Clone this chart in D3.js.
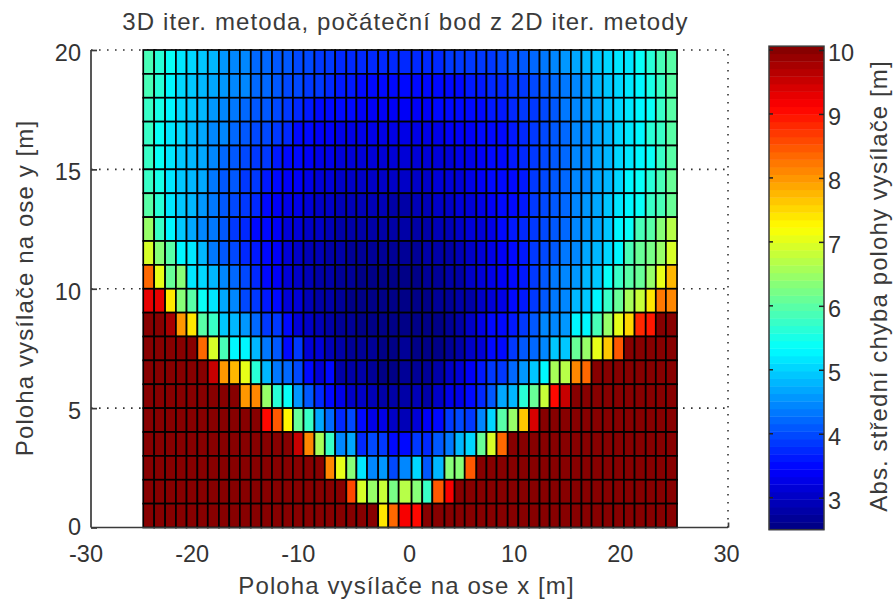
<!DOCTYPE html>
<html><head><meta charset="utf-8">
<script src="https://cdn.jsdelivr.net/npm/d3@7"></script>
<style>html,body{margin:0;padding:0;background:#fff;overflow:hidden}text{font-family:"Liberation Sans",Arial,sans-serif;fill:#333}</style>
</head><body><svg id="c" width="895" height="600"></svg>
<script>
const titleText="3D iter. metoda, počáteční bod z 2D iter. metody";
const xLabelText="Poloha vysílače na ose x [m]";
const yLabelText="Poloha vysílače na ose y [m]";
const cLabelText="Abs. střední chyba polohy vysílače [m]";
const xTicks=[-30,-20,-10,0,10,20,30];
const yTicks=[0,5,10,15,20];
const cTicks=[3,4,5,6,7,8,9,10];
// cell edges along x (m) and y (m)
const xEdges=[-25.08,-24.05,-23.02,-22.0,-21.0,-19.98,-19.0,-17.95,-16.98,-15.98,-14.95,-13.95,-12.95,-11.95,-10.98,-9.98,-8.95,-7.98,-7.0,-5.95,-5.0,-4.0,-2.95,-2.0,-1.02,0.2,1.2,2.15,3.3,4.25,5.2,6.3,7.25,8.2,9.25,10.25,11.25,12.25,13.2,14.15,15.2,16.2,17.15,18.2,19.2,20.2,21.2,22.25,23.2,24.15,25.2];
const yEdges=[0,1,2,3,4,5,6,7,8,9,10,11,12,13,14,15,16,17,18,19,20];
// error values per row; rows from y=19..20 at the top to y=0..1 at the bottom, left to right
const r19=[5.85,5.65,5.45,5.2,5.0,4.9,4.8,4.55,4.5,4.4,4.25,4.2,4.1,4.05,3.95,3.95,3.85,3.8,3.75,3.75,3.7,3.7,3.7,3.7,3.7,3.7,3.7,3.75,3.8,3.8,3.85,3.85,3.9,4.0,4.1,4.15,4.25,4.35,4.45,4.55,4.65,4.8,4.9,5.0,5.15,5.2,5.4,5.65,5.85,6.0];
const r18=[5.85,5.6,5.33,5.05,4.95,4.85,4.65,4.55,4.45,4.4,4.25,4.2,4.1,4.0,3.95,3.9,3.8,3.7,3.65,3.6,3.55,3.55,3.5,3.5,3.5,3.5,3.5,3.5,3.55,3.55,3.6,3.65,3.7,3.75,3.8,3.9,4.0,4.1,4.25,4.35,4.5,4.6,4.75,4.95,5.05,5.15,5.3,5.55,5.8,6.0];
const r17=[5.8,5.5,5.33,5.05,4.9,4.75,4.6,4.5,4.35,4.25,4.15,4.05,3.95,3.9,3.75,3.65,3.55,3.5,3.45,3.45,3.4,3.4,3.4,3.4,3.4,3.4,3.4,3.45,3.45,3.5,3.5,3.55,3.6,3.65,3.7,3.8,3.9,4.0,4.15,4.3,4.45,4.55,4.7,4.9,5.05,5.15,5.3,5.45,5.7,5.95];
const r16=[5.75,5.45,5.2,5.0,4.85,4.7,4.5,4.4,4.2,4.1,4.0,3.95,3.85,3.7,3.55,3.45,3.4,3.35,3.3,3.3,3.3,3.25,3.25,3.25,3.25,3.25,3.3,3.3,3.35,3.4,3.4,3.45,3.5,3.55,3.65,3.75,3.85,3.95,4.1,4.25,4.4,4.5,4.65,4.85,5.0,5.15,5.33,5.6,5.75,5.95];
const r15=[5.75,5.45,5.15,4.95,4.8,4.65,4.4,4.2,4.1,4.0,3.9,3.8,3.65,3.5,3.45,3.35,3.3,3.25,3.2,3.2,3.15,3.15,3.15,3.15,3.15,3.15,3.15,3.2,3.2,3.25,3.3,3.4,3.45,3.5,3.6,3.75,3.85,3.95,4.1,4.25,4.4,4.5,4.65,4.85,5.0,5.1,5.33,5.4,5.75,5.95];
const r14=[5.8,5.5,5.15,4.95,4.8,4.65,4.35,4.15,4.05,3.9,3.8,3.65,3.5,3.4,3.35,3.25,3.2,3.15,3.05,3.05,3.05,3.0,3.0,3.0,3.0,3.0,3.05,3.1,3.15,3.2,3.3,3.4,3.45,3.5,3.55,3.65,3.8,3.95,4.1,4.2,4.4,4.5,4.65,4.85,5.05,5.25,5.45,5.6,5.85,6.05];
const r13=[5.95,5.6,5.2,4.95,4.75,4.6,4.3,4.1,3.95,3.85,3.7,3.55,3.4,3.3,3.25,3.1,3.05,3.0,2.95,2.95,2.9,2.9,2.9,2.85,2.85,2.9,2.95,3.0,3.05,3.1,3.2,3.3,3.4,3.45,3.55,3.6,3.8,3.95,4.1,4.25,4.4,4.55,4.7,4.9,5.1,5.3,5.45,5.7,5.9,6.05];
const r12=[6.4,5.7,5.33,4.95,4.7,4.5,4.3,4.05,3.85,3.7,3.55,3.45,3.4,3.2,3.15,3.05,3.0,2.95,2.85,2.85,2.85,2.8,2.8,2.75,2.8,2.85,2.85,2.9,2.95,3.0,3.1,3.2,3.3,3.45,3.6,3.7,3.9,4.0,4.15,4.25,4.45,4.55,4.7,4.9,5.25,5.45,5.85,5.95,6.35,6.75];
const r11=[6.95,6.35,6.0,5.25,5.1,4.75,4.35,4.1,3.95,3.75,3.6,3.5,3.35,3.15,3.05,2.95,2.9,2.8,2.75,2.7,2.7,2.7,2.65,2.65,2.7,2.7,2.75,2.8,2.85,2.95,3.05,3.15,3.25,3.4,3.5,3.65,3.8,4.0,4.1,4.3,4.45,4.65,4.85,5.05,5.33,5.85,6.05,6.2,6.5,6.95];
const r10=[8.3,7.0,6.05,6.3,5.15,5.05,4.85,4.45,4.25,3.95,3.7,3.55,3.4,3.1,3.0,2.9,2.8,2.75,2.7,2.65,2.6,2.6,2.6,2.6,2.6,2.6,2.65,2.7,2.75,2.85,3.0,3.1,3.25,3.4,3.5,3.65,3.85,4.1,4.3,4.4,4.55,4.75,4.9,5.4,5.7,6.0,6.15,6.45,7.1,7.7];
const r9=[9.35,9.35,7.4,6.3,5.95,5.4,5.2,4.65,4.4,3.95,3.8,3.6,3.45,3.2,3.1,2.95,2.85,2.75,2.65,2.6,2.6,2.55,2.55,2.55,2.6,2.6,2.6,2.65,2.7,2.8,2.85,3.0,3.1,3.3,3.45,3.65,3.85,4.15,4.3,4.5,4.75,4.95,5.33,5.7,6.1,6.6,6.85,7.4,8.25,8.15];
const r8=[10,10,9.8,8.0,7.35,5.95,5.7,4.95,4.85,4.6,4.25,3.85,3.8,3.45,3.2,3.0,2.95,2.85,2.7,2.65,2.6,2.55,2.6,2.6,2.6,2.55,2.6,2.6,2.7,2.8,3.0,3.25,3.45,3.5,3.6,3.8,4.1,4.4,4.45,4.55,5.25,5.33,5.85,6.5,7.05,7.55,8.8,8.9,10,10];
const r7=[10,10,10,10,10,8.4,6.9,5.85,5.33,5.33,4.85,4.3,4.15,3.45,3.8,3.15,3.1,2.9,2.75,2.7,2.65,2.65,2.6,2.6,2.65,2.55,2.55,2.6,2.7,2.85,3.0,3.2,3.45,3.45,3.9,4.05,4.25,4.45,4.9,4.9,6.15,6.45,7.1,7.65,8.5,10,10,10,10,10];
const r6=[10,10,10,10,10,10,9.55,8.0,7.7,7.1,5.6,4.75,4.35,4.25,4.0,3.45,3.1,3.45,2.75,2.85,2.8,2.7,2.6,2.6,2.65,2.65,2.7,2.75,3.05,3.15,3.4,3.6,3.9,3.85,4.2,4.55,4.9,5.33,6.55,6.65,8.15,8.35,10,10,10,10,10,10,10,10];
const r5=[10,10,10,10,10,10,10,10,10,8.0,8.15,6.5,5.6,5.45,4.6,4.1,3.75,3.45,3.25,3.05,3.0,2.9,2.8,2.85,2.8,2.95,2.8,3.0,3.3,3.3,3.55,3.7,4.15,4.65,4.85,5.6,6.15,6.85,9.05,9.55,10,10,10,10,10,10,10,10,10,10];
const r4=[10,10,10,10,10,10,10,10,10,10,10,9.0,8.5,7.3,6.05,5.8,4.65,4.2,3.7,4.0,3.45,3.25,3.25,3.0,2.9,3.2,3.4,3.45,3.8,4.0,3.9,4.45,5.05,5.95,6.4,7.65,9.4,10,10,10,10,10,10,10,10,10,10,10,10,10];
const r3=[10,10,10,10,10,10,10,10,10,10,10,10,10,10,9.55,8.15,6.55,5.7,4.5,4.7,3.7,4.0,3.85,3.5,3.5,3.9,3.7,4.05,4.3,4.75,5.05,6.15,6.9,8.4,10,10,10,10,10,10,10,10,10,10,10,10,10,10,10,10];
const r2=[10,10,10,10,10,10,10,10,10,10,10,10,10,10,10,10,10,8.1,7.0,6.3,5.15,4.5,4.55,4.0,4.5,5.05,4.15,4.75,6.3,6.3,8.45,10,10,10,10,10,10,10,10,10,10,10,10,10,10,10,10,10,10,10];
const r1=[10,10,10,10,10,10,10,10,10,10,10,10,10,10,10,10,10,10,10,8.6,6.9,6.45,6.8,6.25,6.65,6.35,5.7,8.5,9.2,10,10,10,10,10,10,10,10,10,10,10,10,10,10,10,10,10,10,10,10,10];
const r0=[10,10,10,10,10,10,10,10,10,10,10,10,10,10,10,10,10,10,10,10,10,10,7.45,8.4,9.2,9.0,10,10,10,10,10,10,10,10,10,10,10,10,10,10,10,10,10,10,10,10,10,10,10,10];
const rows=[r19,r18,r17,r16,r15,r14,r13,r12,r11,r10,r9,r8,r7,r6,r5,r4,r3,r2,r1,r0];

const svg=d3.select("#c");
const x=d3.scaleLinear().domain([-30,30]).range([91,728]);
const y=d3.scaleLinear().domain([0,20]).range([527.5,50]);
const cMin=2.5,cMax=10.06,nLevels=64;
const c=d3.scaleLinear().domain([3,10]).range([497.7,50]);
function jet(t){ // MATLAB jet, t in 0..1
  const f=v=>Math.round(255*Math.max(0,Math.min(1,v)));
  return d3.rgb(f(1.5-Math.abs(4*t-3)),f(1.5-Math.abs(4*t-2)),f(1.5-Math.abs(4*t-1)));
}
const level=d3.scaleQuantize().domain([cMin,cMax]).range(d3.range(nLevels));
const colorOf=v=>jet((level(v)+0.5)/nLevels);
const tickFont="23.5px";
const inkColor="#3a3a3a";
const plain=d=>String(d);

// grid
const grid=svg.append("g").attr("stroke","#333").attr("stroke-width",1.6).attr("stroke-dasharray","1.6 6.4");
grid.selectAll("line.h").data(yTicks.filter(d=>d>0)).join("line").attr("class","h")
 .attr("x1",x(-30)).attr("x2",x(30)).attr("y1",d=>y(d)).attr("y2",d=>y(d));
grid.append("line").attr("x1",x(30)).attr("x2",x(30)).attr("y1",y(0)).attr("y2",y(20));

// cells
const cells=[];
rows.forEach((r,i)=>r.forEach((v,j)=>cells.push({i,j,v})));
svg.append("g").attr("stroke","#000").attr("stroke-width",1.7).selectAll("rect").data(cells).join("rect")
 .attr("x",d=>x(xEdges[d.j]))
 .attr("width",d=>x(xEdges[d.j+1])-x(xEdges[d.j]))
 .attr("y",d=>y(yEdges[20-d.i]))
 .attr("height",d=>y(yEdges[19-d.i])-y(yEdges[20-d.i]))
 .attr("fill",d=>colorOf(d.v));

// axes
const ax=svg.append("g").attr("transform",`translate(0,${y(0)})`).call(d3.axisBottom(x).tickValues(xTicks).tickSize(-5).tickPadding(16).tickFormat(plain));
const ay=svg.append("g").attr("transform",`translate(${x(-30)},0)`).call(d3.axisLeft(y).tickValues(yTicks).tickSize(-6).tickPadding(10).tickFormat(plain));
[ax,ay].forEach(g=>{g.selectAll("path,line").attr("stroke",inkColor).attr("stroke-width",1.7);
  g.selectAll("text").style("font-family",'"Liberation Sans",Arial,sans-serif').style("font-size",tickFont).attr("fill",inkColor);});
ax.select("path").attr("d",`M${x(-30)},0H${x(30)}`);
ay.select("path").attr("d",`M0,${y(0)}V${y(20)}`);
ax.selectAll("text").attr("dx",d=>d<0?-5.5:d>0?-2:-0.5).attr("dy",0).attr("y",34.5);
ax.selectAll(".tick line").filter(d=>d!==30).remove();
ay.selectAll("text").attr("dy",d=>d===0?"0.3em":"0.44em");

// labels
const T=(t,xx,yy,rot)=>svg.append("text").text(t).attr("text-anchor","middle")
 .attr("transform",`translate(${xx},${yy})${rot?" rotate(-90)":""}`)
 .style("font-size","24px").style("letter-spacing","1.1px").style("fill",inkColor);
T(titleText,405.5,30);
T(xLabelText,406.5,593.5);
T(yLabelText,33,288,true);
T(cLabelText,887,286,true);

// colorbar
const bandH=(c(cMin)-c(cMax))/nLevels;
svg.append("g").selectAll("rect").data(d3.range(nLevels)).join("rect")
 .attr("x",769).attr("width",55)
 .attr("y",d=>c(cMin)-(d+1)*bandH).attr("height",bandH+0.4)
 .attr("fill",d=>jet((d+0.5)/nLevels));
const cb=svg.append("g");
cb.append("rect").attr("x",769).attr("y",c(cMax)).attr("width",55).attr("height",c(cMin)-c(cMax)).attr("fill","none").attr("stroke",inkColor).attr("stroke-width",1.5);
const ca=svg.append("g").attr("transform","translate(824,0)").call(d3.axisRight(c).tickValues(cTicks).tickSize(-5).tickPadding(4).tickFormat(plain));
ca.select("path").remove();
ca.selectAll("line").attr("stroke","#222").attr("stroke-width",1.5);
ca.selectAll("text").style("font-family",'"Liberation Sans",Arial,sans-serif').style("font-size",tickFont).attr("fill",inkColor).attr("dy","0.44em");
cb.selectAll("line").data(cTicks).join("line").attr("x1",769).attr("x2",773).attr("y1",d=>c(d)).attr("y2",d=>c(d)).attr("stroke","#222").attr("stroke-width",1.5);
</script></body></html>
